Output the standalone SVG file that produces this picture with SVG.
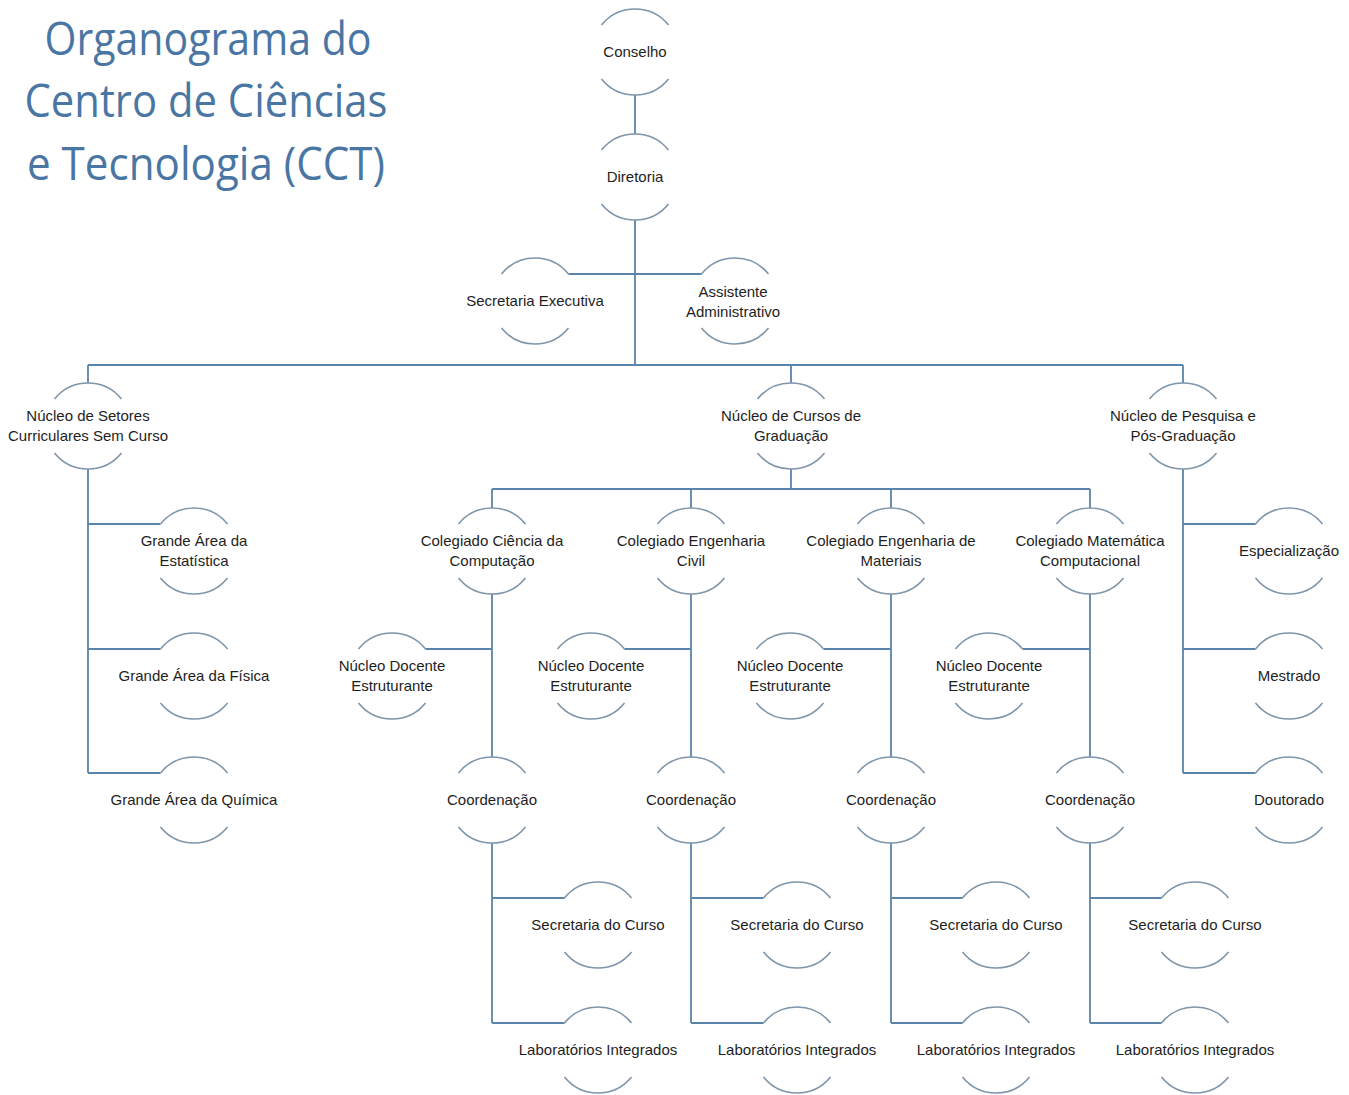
<svg xmlns="http://www.w3.org/2000/svg" xmlns:xlink="http://www.w3.org/1999/xlink" width="1349" height="1095" viewBox="0 0 1349 1095">
<style>
.ring{fill:none;stroke:#7f95aa;stroke-width:1.6}
.lbl{font-family:"Liberation Sans",Arial,sans-serif;font-size:15px;fill:#1e1e1e;text-anchor:middle}
.con{fill:none;stroke:#5b84aa;stroke-width:1.8}
.title{font-family:"Open Sans","Noto Sans",sans-serif;font-size:46px;fill:#4a76a3;text-anchor:middle}
</style>
<defs>
<path id="ring" class="ring" d="M-33.5,-27 A43,43 0 0 1 33.5,-27 M-33.5,27 A43,43 0 0 0 33.5,27"/>
</defs>
<rect width="1349" height="1095" fill="#ffffff"/>
<g id="title">
<text class="title" x="208" y="55" textLength="327" lengthAdjust="spacingAndGlyphs">Organograma do</text>
<text class="title" x="206" y="117" textLength="363" lengthAdjust="spacingAndGlyphs">Centro de Ciências</text>
<text class="title" x="206" y="180" textLength="358" lengthAdjust="spacingAndGlyphs">e Tecnologia (CCT)</text>
</g>
<g id="connectors">
<path class="con" d="M635,95 V134 M635,220 V365 M568.5,274 H701.5 M88,365 H1183 M88,365 V383 M791,365 V383 M1183,365 V383"/>
<path class="con" d="M88,469 V773 M88,524 H160.5 M88,649 H160.5 M88,773 H160.5"/>
<path class="con" d="M1183,469 V773 M1183,524 H1255.5 M1183,649 H1255.5 M1183,773 H1255.5"/>
<path class="con" d="M791,469 V489 M492,489 H1090 M492,489 V508 M691,489 V508 M891,489 V508 M1090,489 V508"/>
<path class="con" d="M492,594 V757 M425.5,649 H492 M492,843 V1023 M492,898 H564.5 M492,1023 H564.5"/>
<path class="con" d="M691,594 V757 M624.5,649 H691 M691,843 V1023 M691,898 H763.5 M691,1023 H763.5"/>
<path class="con" d="M891,594 V757 M823.5,649 H891 M891,843 V1023 M891,898 H962.5 M891,1023 H962.5"/>
<path class="con" d="M1090,594 V757 M1022.5,649 H1090 M1090,843 V1023 M1090,898 H1161.5 M1090,1023 H1161.5"/>
</g>
<g id="n-conselho"><use href="#ring" x="635" y="52"/><text class="lbl" x="635" y="57">Conselho</text></g>
<g id="n-diretoria"><use href="#ring" x="635" y="177"/><text class="lbl" x="635" y="182">Diretoria</text></g>
<g id="n-secretaria-executiva"><use href="#ring" x="535" y="301"/><text class="lbl" x="535" y="306">Secretaria Executiva</text></g>
<g id="n-assistente"><use href="#ring" x="735" y="301"/><text class="lbl" x="733" y="297">Assistente</text><text class="lbl" x="733" y="317">Administrativo</text></g>
<g id="n-nucleo-setores"><use href="#ring" x="88" y="426"/><text class="lbl" x="88" y="421">Núcleo de Setores</text><text class="lbl" x="88" y="441">Curriculares Sem Curso</text></g>
<g id="n-nucleo-cursos"><use href="#ring" x="791" y="426"/><text class="lbl" x="791" y="421">Núcleo de Cursos de</text><text class="lbl" x="791" y="441">Graduação</text></g>
<g id="n-nucleo-pesquisa"><use href="#ring" x="1183" y="426"/><text class="lbl" x="1183" y="421">Núcleo de Pesquisa e</text><text class="lbl" x="1183" y="441">Pós-Graduação</text></g>
<g id="n-estatistica"><use href="#ring" x="194" y="551"/><text class="lbl" x="194" y="546">Grande Área da</text><text class="lbl" x="194" y="566">Estatística</text></g>
<g id="n-fisica"><use href="#ring" x="194" y="676"/><text class="lbl" x="194" y="681">Grande Área da Física</text></g>
<g id="n-quimica"><use href="#ring" x="194" y="800"/><text class="lbl" x="194" y="805">Grande Área da Química</text></g>
<g id="n-especializacao"><use href="#ring" x="1289" y="551"/><text class="lbl" x="1289" y="556">Especialização</text></g>
<g id="n-mestrado"><use href="#ring" x="1289" y="676"/><text class="lbl" x="1289" y="681">Mestrado</text></g>
<g id="n-doutorado"><use href="#ring" x="1289" y="800"/><text class="lbl" x="1289" y="805">Doutorado</text></g>
<g id="n-col-cc"><use href="#ring" x="492" y="551"/><text class="lbl" x="492" y="546">Colegiado Ciência da</text><text class="lbl" x="492" y="566">Computação</text></g>
<g id="n-col-civil"><use href="#ring" x="691" y="551"/><text class="lbl" x="691" y="546">Colegiado Engenharia</text><text class="lbl" x="691" y="566">Civil</text></g>
<g id="n-col-mat"><use href="#ring" x="891" y="551"/><text class="lbl" x="891" y="546">Colegiado Engenharia de</text><text class="lbl" x="891" y="566">Materiais</text></g>
<g id="n-col-matcomp"><use href="#ring" x="1090" y="551"/><text class="lbl" x="1090" y="546">Colegiado Matemática</text><text class="lbl" x="1090" y="566">Computacional</text></g>
<g id="n-nde-cc"><use href="#ring" x="392" y="676"/><text class="lbl" x="392" y="671">Núcleo Docente</text><text class="lbl" x="392" y="691">Estruturante</text></g>
<g id="n-nde-civil"><use href="#ring" x="591" y="676"/><text class="lbl" x="591" y="671">Núcleo Docente</text><text class="lbl" x="591" y="691">Estruturante</text></g>
<g id="n-nde-mat"><use href="#ring" x="790" y="676"/><text class="lbl" x="790" y="671">Núcleo Docente</text><text class="lbl" x="790" y="691">Estruturante</text></g>
<g id="n-nde-matcomp"><use href="#ring" x="989" y="676"/><text class="lbl" x="989" y="671">Núcleo Docente</text><text class="lbl" x="989" y="691">Estruturante</text></g>
<g id="n-coord-cc"><use href="#ring" x="492" y="800"/><text class="lbl" x="492" y="805">Coordenação</text></g>
<g id="n-coord-civil"><use href="#ring" x="691" y="800"/><text class="lbl" x="691" y="805">Coordenação</text></g>
<g id="n-coord-mat"><use href="#ring" x="891" y="800"/><text class="lbl" x="891" y="805">Coordenação</text></g>
<g id="n-coord-matcomp"><use href="#ring" x="1090" y="800"/><text class="lbl" x="1090" y="805">Coordenação</text></g>
<g id="n-sec-cc"><use href="#ring" x="598" y="925"/><text class="lbl" x="598" y="930">Secretaria do Curso</text></g>
<g id="n-sec-civil"><use href="#ring" x="797" y="925"/><text class="lbl" x="797" y="930">Secretaria do Curso</text></g>
<g id="n-sec-mat"><use href="#ring" x="996" y="925"/><text class="lbl" x="996" y="930">Secretaria do Curso</text></g>
<g id="n-sec-matcomp"><use href="#ring" x="1195" y="925"/><text class="lbl" x="1195" y="930">Secretaria do Curso</text></g>
<g id="n-lab-cc"><use href="#ring" x="598" y="1050"/><text class="lbl" x="598" y="1055">Laboratórios Integrados</text></g>
<g id="n-lab-civil"><use href="#ring" x="797" y="1050"/><text class="lbl" x="797" y="1055">Laboratórios Integrados</text></g>
<g id="n-lab-mat"><use href="#ring" x="996" y="1050"/><text class="lbl" x="996" y="1055">Laboratórios Integrados</text></g>
<g id="n-lab-matcomp"><use href="#ring" x="1195" y="1050"/><text class="lbl" x="1195" y="1055">Laboratórios Integrados</text></g>
</svg>
